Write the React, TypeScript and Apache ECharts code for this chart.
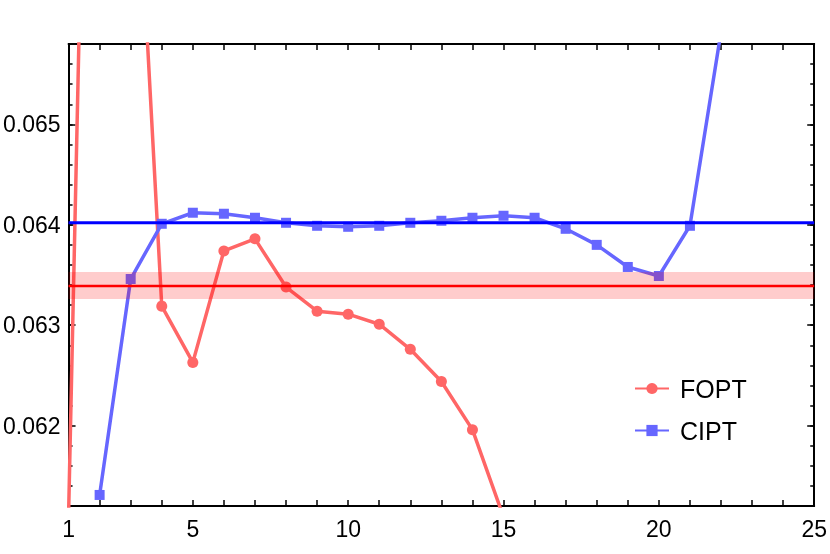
import { useEffect, useRef } from 'react';
import * as echarts from 'echarts';

const xValues = [1, 2, 3, 4, 5, 6, 7, 8, 9, 10, 11, 12, 13, 14, 15, 16, 17, 18, 19, 20, 21, 22];
const foptValues: (number | null)[] = [
  0.0611, 0.0753, 0.0689, 0.06319, 0.06263, 0.06374, 0.06386, 0.06338, 0.06314, 0.06311,
  0.06301, 0.06276, 0.06244, 0.06196, 0.06109, null, null, null, null, null, null, null,
];
const ciptValues: (number | null)[] = [
  null, 0.06131, 0.06346, 0.06401, 0.06412, 0.06411, 0.06407, 0.06402, 0.06399, 0.06398,
  0.06399, 0.06402, 0.06404, 0.06407, 0.06409, 0.06407, 0.06396, 0.0638, 0.06358, 0.06349,
  0.06399, 0.06592,
];
const xLabelValues = [1, 5, 10, 15, 20, 25];
const xRange = [1, 25];
const foptRef = 0.06339;
const foptBand = [0.06326, 0.06353];
const ciptRef = 0.06402;

const FONT = '"Liberation Sans", Arial, sans-serif';

function pairs(vals: (number | null)[]) {
  const out: [number, number][] = [];
  vals.forEach((v, i) => {
    if (v !== null) out.push([xValues[i], v]);
  });
  return out;
}

export default function App() {
  const ref = useRef<HTMLDivElement>(null);
  useEffect(() => {
    if (!ref.current) return;
    const chart = echarts.init(ref.current, null, { renderer: 'svg' });
    const axisLine = { show: true, lineStyle: { color: '#000', width: 2 } };
    const xCommon = {
      type: 'value' as const,
      min: xRange[0],
      max: xRange[1],
      interval: 1,
      axisLine,
      splitLine: { show: false },
      axisTick: { show: true, inside: true, length: 6, lineStyle: { color: '#000', width: 1.5 } },
    };
    const yCommon = {
      type: 'value' as const,
      min: 0.0612,
      max: 0.0658,
      axisLine,
      splitLine: { show: false },
    };
    chart.setOption({
      animation: false,
      grid: { left: 67, right: 13, top: 44, bottom: 48 },
      legend: {
        orient: 'vertical',
        left: 629,
        top: 371,
        itemWidth: 34,
        itemHeight: 14,
        itemGap: 17,
        data: ['FOPT', 'CIPT'],
        textStyle: { fontSize: 25, fontFamily: FONT, color: '#000', padding: [0, 0, 0, 6] },
      },
      xAxis: [
        {
          ...xCommon,
          position: 'bottom',
          axisLabel: {
            show: true,
            margin: 11,
            fontSize: 23,
            fontFamily: FONT,
            color: '#000',
            showMinLabel: true,
            showMaxLabel: true,
            formatter: (v: number) => (xLabelValues.includes(Math.round(v)) && Math.abs(v - Math.round(v)) < 1e-9 ? String(Math.round(v)) : ''),
          },
        },
        { ...xCommon, position: 'top', axisLabel: { show: false } },
      ],
      yAxis: [
        {
          ...yCommon,
          position: 'left',
          interval: 0.0002,
          axisTick: { show: true, inside: true, length: 4, lineStyle: { color: '#000', width: 1.5 } },
          axisLabel: { show: false },
        },
        {
          ...yCommon,
          position: 'left',
          splitNumber: 5,
          axisTick: { show: true, inside: true, length: 7, lineStyle: { color: '#000', width: 1.5 } },
          axisLabel: {
            show: true,
            margin: 8,
            fontSize: 23,
            fontFamily: FONT,
            color: '#000',
            showMinLabel: false,
            showMaxLabel: false,
            formatter: (v: number) => (Math.abs(v * 1000 - Math.round(v * 1000)) < 1e-6 ? v.toFixed(3) : ''),
          },
        },
        {
          ...yCommon,
          position: 'right',
          interval: 0.0002,
          axisTick: { show: true, inside: true, length: 4, lineStyle: { color: '#000', width: 1.5 } },
          axisLabel: { show: false },
        },
        {
          ...yCommon,
          position: 'right',
          splitNumber: 5,
          axisTick: { show: true, inside: true, length: 7, lineStyle: { color: '#000', width: 1.5 } },
          axisLabel: { show: false },
        },
      ],
      series: [
        {
          name: 'FOPT',
          type: 'line',
          data: pairs(foptValues),
          clip: true,
          symbol: 'circle',
          symbolSize: 11,
          lineStyle: { color: '#ff6666', width: 3.5 },
          itemStyle: { color: '#ff6666' },
          z: 2,
        },
        {
          name: 'CIPT',
          type: 'line',
          data: pairs(ciptValues),
          clip: true,
          symbol: 'rect',
          symbolSize: 10,
          lineStyle: { color: '#6666ff', width: 3.5 },
          itemStyle: { color: '#6666ff' },
          z: 3,
        },
        {
          name: 'band',
          type: 'line',
          data: [],
          z: 5,
          silent: true,
          markArea: {
            silent: true,
            z: 5,
            itemStyle: { color: 'rgba(255,0,0,0.2)' },
            data: [[{ yAxis: foptBand[0] }, { yAxis: foptBand[1] }]],
          },
        },
        {
          name: 'FOPT ref',
          type: 'line',
          data: xRange.map((x) => [x, foptRef]),
          symbol: 'none',
          silent: true,
          z: 6,
          lineStyle: { color: '#ff0000', width: 2.5 },
        },
        {
          name: 'CIPT ref',
          type: 'line',
          data: xRange.map((x) => [x, ciptRef]),
          symbol: 'none',
          silent: true,
          z: 6,
          lineStyle: { color: '#0000ff', width: 3 },
        },
      ],
    });
    return () => chart.dispose();
  }, []);
  return <div ref={ref} style={{ position: 'fixed', left: 0, top: 0, width: 830, height: 554 }} />;
}
